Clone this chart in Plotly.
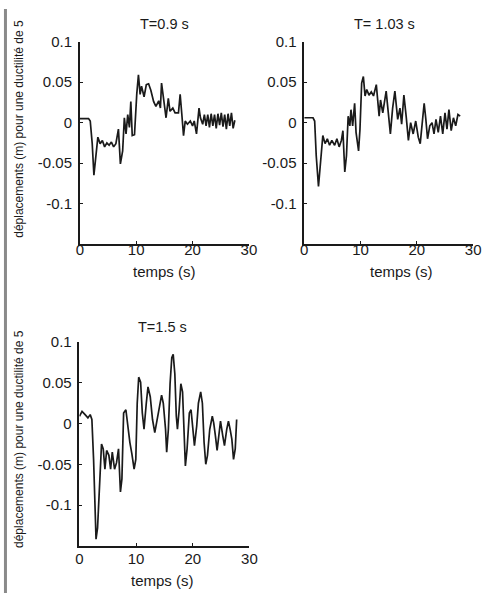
import plotly.graph_objects as go

# ---- data ----
t1 = [0, 1.55, 1.85, 2.2, 2.5, 2.8, 3.2, 3.6, 4.0, 4.4, 4.8, 5.2, 5.6, 6.0, 6.4, 6.85, 7.2, 7.6, 7.9, 8.2, 8.5, 8.8,
      9.05, 9.3, 9.7, 10.1, 10.4, 10.7, 10.95, 11.4, 11.8, 12.2, 12.6, 13.1, 13.5, 14.0, 14.3, 14.5, 14.9, 15.3,
      15.7, 16.0, 16.5, 16.9, 17.5, 17.8, 18.1, 18.4, 18.7, 19.1, 19.6, 20.0, 20.3, 20.7, 21.15, 21.4, 21.8,
      22.1, 22.4, 22.7, 23.0, 23.3, 23.6, 23.9, 24.2, 24.5, 24.8, 25.1, 25.4, 25.7, 26.0, 26.3, 26.6, 26.9, 27.2, 27.5]
v1 = [0.005, 0.005, 0.002, -0.026, -0.065, -0.045, -0.018, -0.026, -0.022, -0.03, -0.025, -0.028, -0.024, -0.03,
      -0.026, -0.008, -0.051, -0.035, 0.006, -0.014, 0.01, -0.006, 0.026, -0.016, -0.015, 0.035, 0.059, 0.035,
      0.045, 0.032, 0.047, 0.048, 0.04, 0.026, 0.02, 0.027, 0.018, 0.049, 0.026, 0.006, 0.03, 0.014, 0.018, 0.012,
      0.012, 0.035, 0.01, -0.016, 0.002, -0.002, 0.002, -0.004, 0.002, -0.014, 0.018, 0.006, -0.002,
      0.01, -0.004, 0.01, -0.006, 0.011, -0.004, 0.01, -0.007, 0.011, -0.003, 0.012, -0.005, 0.01, -0.008,
      0.011, -0.004, 0.012, -0.007, 0.003]

t2 = [0, 1.56, 1.85, 2.13, 2.53, 2.9, 3.3, 3.7, 4.1, 4.5, 4.9, 5.4, 5.8, 6.2, 6.6, 6.87, 7.2, 7.5, 7.8, 8.1, 8.3,
      8.6, 8.95, 9.2, 9.65, 9.9, 10.2, 10.5, 10.8, 11.1, 11.5, 11.9, 12.3, 12.8, 13.3, 13.55, 13.95, 14.55, 14.95,
      15.3, 15.7, 16.1, 16.6, 17.0, 17.3, 17.7, 18.1, 18.5, 18.9, 19.35, 19.8, 20.25, 20.6, 21.0, 21.3, 21.6, 21.9,
      22.3, 22.7, 23.05, 23.4, 23.8, 24.2, 24.6, 25.0, 25.35, 25.7, 26.1, 26.5, 26.9, 27.3, 27.7]
v2 = [0.006, 0.006, 0.002, -0.041, -0.079, -0.049, -0.016, -0.026, -0.02, -0.028, -0.022, -0.028, -0.02, -0.03,
      -0.022, -0.01, -0.061, -0.041, 0.008, -0.004, 0.016, -0.004, 0.024, -0.012, -0.035, -0.008, 0.049, 0.057,
      0.033, 0.041, 0.034, 0.038, 0.033, 0.047, 0.008, 0.028, 0.012, 0.039, 0.012, -0.014, 0.018, 0.039, 0.004,
      0.018, -0.002, 0.034, 0.008, -0.022, 0.0, -0.014, 0.002, -0.018, -0.026, 0.008, 0.024, 0.004, -0.02,
      -0.004, 0.0, -0.014, 0.004, -0.012, 0.008, -0.014, 0.012, -0.008, 0.016, -0.01, 0.006, -0.004, 0.01, 0.008]

t3 = [0, 0.46, 1.0, 1.5, 1.9, 2.2, 2.5, 2.76, 2.93, 3.2, 3.45, 3.7, 3.9, 4.2, 4.5, 4.8, 5.2, 5.5, 5.8, 6.2, 6.55,
      6.9, 7.24, 7.5, 7.8, 8.2, 8.5, 8.9, 9.25, 9.65, 9.95, 10.2, 10.46, 10.8, 11.1, 11.4, 11.8, 12.1, 12.5, 12.9,
      13.3, 13.7, 14.1, 14.5, 14.8, 15.2, 15.4, 15.7, 16.0, 16.3, 16.55, 16.84, 17.1, 17.3, 17.6, 17.9, 18.2, 18.45,
      18.7, 19.0, 19.4, 19.7, 20.0, 20.3, 20.7, 21.0, 21.4, 21.7, 22.0, 22.3, 22.6, 23.0, 23.45, 23.7, 24.0, 24.3,
      24.6, 24.9, 25.3, 25.6, 26.0, 26.3, 26.6, 26.9, 27.2, 27.5, 27.75]
v3 = [0.009, 0.015, 0.011, 0.007, 0.011, 0.005, -0.044, -0.112, -0.142, -0.128, -0.084, -0.048, -0.025, -0.031,
      -0.056, -0.033, -0.039, -0.056, -0.035, -0.056, -0.048, -0.031, -0.084, -0.068, 0.013, 0.017, -0.003, -0.023,
      -0.037, -0.056, -0.044, 0.025, 0.057, 0.051, 0.013, -0.007, 0.025, 0.045, 0.033, 0.005, -0.011, 0.005, 0.021,
      0.035, 0.025, -0.007, -0.035, -0.007, 0.049, 0.081, 0.085, 0.061, 0.009, -0.007, 0.017, 0.049, 0.039, -0.007,
      -0.052, -0.031, 0.013, 0.017, -0.007, -0.027, -0.003, 0.025, 0.039, 0.025, -0.023, -0.05, -0.039, -0.007,
      0.009, 0.001, -0.015, -0.033, -0.015, 0.003, -0.015, -0.027, -0.007, 0.003, -0.007, -0.019, -0.044, -0.031,
      0.005]

titles = ["T=0.9 s", "T= 1.03 s", "T=1.5 s"]
xlabel = "temps (s)"
ylabel = "déplacements (m) pour une ductilité de 5"
xticks = [0, 10, 20, 30]
yticks = [-0.1, -0.05, 0, 0.05, 0.1]
yticktext = ["-0.1", "-0.05", "0", "0.05", "0.1"]

W, H = 495, 593
def px(x): return x / W
def py(y): return 1 - y / H

FONT = "Liberation Sans, Arial, sans-serif"
INK = "#1a1a1a"
fig = go.Figure()
line = dict(color=INK, width=1.7)
fig.add_trace(go.Scatter(x=t1, y=v1, mode="lines", line=line, xaxis="x", yaxis="y"))
fig.add_trace(go.Scatter(x=t2, y=v2, mode="lines", line=line, xaxis="x2", yaxis="y2"))
fig.add_trace(go.Scatter(x=t3, y=v3, mode="lines", line=line, xaxis="x3", yaxis="y3"))

axcommon = dict(showline=True, linecolor=INK, linewidth=1.5, showgrid=False, zeroline=False,
                ticks="inside", ticklen=3, tickcolor=INK,
                tickfont=dict(family=FONT, size=15, color=INK))

boxes = [(77.7, 251.0, 33.3, 238.5), (307.7, 480.8, 33.3, 238.5), (77.3, 251.5, 338.3, 545.0)]
for i, (x0, x1, y0, y1) in enumerate(boxes):
    s = "" if i == 0 else str(i + 1)
    fig.layout["xaxis" + s] = dict(axcommon, domain=[px(x0), px(x1)], range=[0, 30], tickvals=xticks,
                                    anchor="y" + s, ticklabelstandoff=(-9 if i < 2 else -1))
    fig.layout["yaxis" + s] = dict(axcommon, domain=[py(y1), py(y0)], range=[-0.15, 0.1], tickvals=yticks,
                                    ticktext=yticktext, anchor="x" + s, ticklabelstandoff=3)

ann = []
for txt, x, y in zip(titles, [164, 390, 162], [15, 15, 323]):
    ann.append(dict(text=txt, x=px(x), y=py(y), xref="paper", yref="paper", showarrow=False,
                    xanchor="center", yanchor="middle", font=dict(family=FONT, size=14.5, color=INK)))
for x, y in [(164, 267), (407, 267), (162, 580)]:
    ann.append(dict(text=xlabel, x=px(x), y=py(y), xref="paper", yref="paper", showarrow=False,
                    xanchor="center", yanchor="middle", font=dict(family=FONT, size=15, color=INK)))
for y in [122, 437]:
    ann.append(dict(text=ylabel, x=px(16), y=py(y), xref="paper", yref="paper", showarrow=False,
                    textangle=-90, xanchor="center", yanchor="middle",
                    font=dict(family=FONT, size=12, color=INK)))

fig.update_layout(width=W, height=H, margin=dict(l=0, r=0, t=0, b=0), showlegend=False,
                  paper_bgcolor="white", plot_bgcolor="white", annotations=ann,
                  shapes=[dict(type="line", xref="paper", yref="paper", x0=px(1.5), x1=px(1.5), y0=0, y1=1,
                               line=dict(color="#8a8a8a", width=3))])
fig.write_html("out.html")
